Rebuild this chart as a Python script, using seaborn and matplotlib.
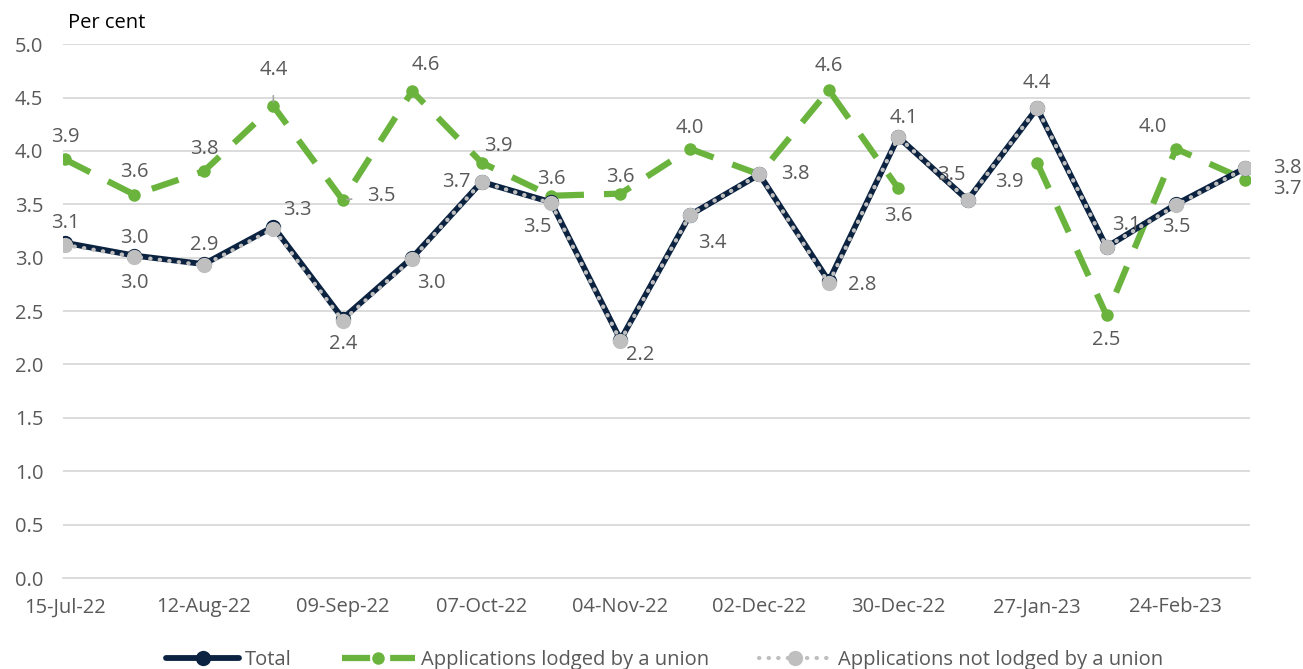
import matplotlib
matplotlib.use("Agg")
import matplotlib.pyplot as plt
import seaborn as sns
import numpy as np
import pandas as pd

# === Data ===
dates = ["15-Jul-22", "29-Jul-22", "12-Aug-22", "26-Aug-22", "09-Sep-22", "23-Sep-22",
         "07-Oct-22", "21-Oct-22", "04-Nov-22", "18-Nov-22", "02-Dec-22", "16-Dec-22",
         "30-Dec-22", "13-Jan-23", "27-Jan-23", "10-Feb-23", "24-Feb-23", "10-Mar-23"]
total = [3.14, 3.02, 2.94, 3.29, 2.43, 3.00, 3.71, 3.52, 2.23, 3.40, 3.78, 2.78,
         4.13, 3.54, 4.40, 3.10, 3.50, 3.84]
union = [3.92, 3.59, 3.81, 4.42, 3.54, 4.56, 3.89, 3.58, 3.60, 4.02, 3.78, 4.57,
         3.65, np.nan, 3.89, 2.46, 4.02, 3.73]
non_union = [3.12, 3.01, 2.93, 3.27, 2.41, 2.99, 3.71, 3.51, 2.22, 3.40, 3.78, 2.76,
             4.13, 3.54, 4.40, 3.10, 3.49, 3.84]

# label offsets (points) for data labels
total_off = [(0, 14), (0, 13), (0, 14), (17, 12), (0, -18), (14, -18), (-18, 0), (-10, -18),
             (14, -11), (16, -20), (26, 0), (24, -3), (4, 14), (-12, 18), (0, 18), (14, 16),
             (0, -16), (30, 0)]
union_off = [(0, 16), (0, 16), (0, 16), (0, 26), (28, 3), (10, 19), (12, 12), (0, 12),
             (0, 12), (0, 15), None, (0, 17), (0, -20), None, (-20, -14), (0, -18),
             (-17, 16), (30, -7)]
nonunion_off = [None, (0, -19), None, None, None, None, None, None, None, None, None, None,
                None, None, None, None, None, None]
union_leader = [3, 4]  # labels drawn with a leader line

x = np.arange(len(dates))
df = pd.DataFrame({"x": x, "Total": total, "Union": union, "NonUnion": non_union})
df["seg"] = df["Union"].isna().cumsum()

NAVY = "#0b2341"
GREEN = "#6ab43e"
GREY = "#bfbfbf"
TXT = "#595959"
FS = 14.5

sns.set_style("white")
plt.rcParams["font.family"] = ["Open Sans", "DejaVu Sans"]

fig = plt.figure(figsize=(13.03, 6.69), dpi=100)
ax = fig.add_axes([0.0483, 0.136, 0.9107, 0.798])

# union series has a gap, draw each run separately
for k, (seg, part) in enumerate(df.dropna(subset=["Union"]).groupby("seg")):
    sns.lineplot(data=part, x="x", y="Union", ax=ax, color=GREEN, linewidth=4.5,
                 linestyle=(0, (4.5, 3.2)), marker="o", markersize=9, markeredgewidth=0,
                 label="Applications lodged by a union" if k == 0 else None, zorder=3)
sns.lineplot(data=df, x="x", y="Total", ax=ax, color=NAVY, linewidth=4.2,
             marker="o", markersize=11, markeredgewidth=0, label="Total", zorder=4)
sns.lineplot(data=df, x="x", y="NonUnion", ax=ax, color=GREY, linewidth=3.0,
             linestyle=(0, (0.1, 2.2)), dash_capstyle="round", marker="o", markersize=11,
             markeredgewidth=0, label="Applications not lodged by a union", zorder=5)

# === Data labels ===
def add_labels(vals, offs, leaders=()):
    for i, (v, o) in enumerate(zip(vals, offs)):
        if o is None or np.isnan(v):
            continue
        arrow = None
        if i in leaders:
            arrow = dict(arrowstyle="-", color="#a6a6a6", lw=1.2, shrinkA=9, shrinkB=3)
        ax.annotate(f"{v:.1f}", (x[i], v), xytext=o, textcoords="offset points",
                    ha="center", va="center", fontsize=FS, color=TXT, zorder=6,
                    arrowprops=arrow)

add_labels(total, total_off)
add_labels(union, union_off, union_leader)
add_labels(non_union, nonunion_off)

# === Axes styling ===
ax.set_xlim(-0.03, 17.06)
ax.set_ylim(0, 5.0)
ax.set_yticks(np.arange(0, 5.01, 0.5))
ax.set_yticklabels([f"{v:.1f}" for v in np.arange(0, 5.01, 0.5)])
ax.yaxis.grid(True, color="#d9d9d9", linewidth=1.3)
ax.set_axisbelow(True)
ax.set_xticks(x[::2])
ax.set_xticklabels(dates[::2])
ax.set_xticks(x, minor=True)
ax.tick_params(axis="x", which="major", direction="in", length=7, width=1.2,
               color="#d9d9d9", labelsize=FS, labelcolor=TXT, pad=14)
ax.tick_params(axis="x", which="minor", direction="in", length=4, width=1.2, color="#d9d9d9")
ax.tick_params(axis="y", length=0, labelsize=FS, labelcolor=TXT, pad=14)
for s in ["top", "right", "left"]:
    ax.spines[s].set_visible(False)
ax.spines["bottom"].set_color("#d9d9d9")
ax.spines["bottom"].set_linewidth(1.3)
ax.set_xlabel("")
ax.set_ylabel("")

fig.text(0.052, 0.966, "Per cent", fontsize=FS, color="black", ha="left", va="center")

handles, labels = ax.get_legend_handles_labels()
order = [labels.index(n) for n in ["Total", "Applications lodged by a union",
                                    "Applications not lodged by a union"]]
ax.legend_.remove()
fig.legend([handles[i] for i in order], [labels[i] for i in order], loc="center",
           bbox_to_anchor=(0.51, 0.014), ncol=3, frameon=False, fontsize=FS,
           labelcolor=TXT, handlelength=3.6, columnspacing=2.5, handletextpad=0.3)

plt.savefig("out.png", dpi=100)
